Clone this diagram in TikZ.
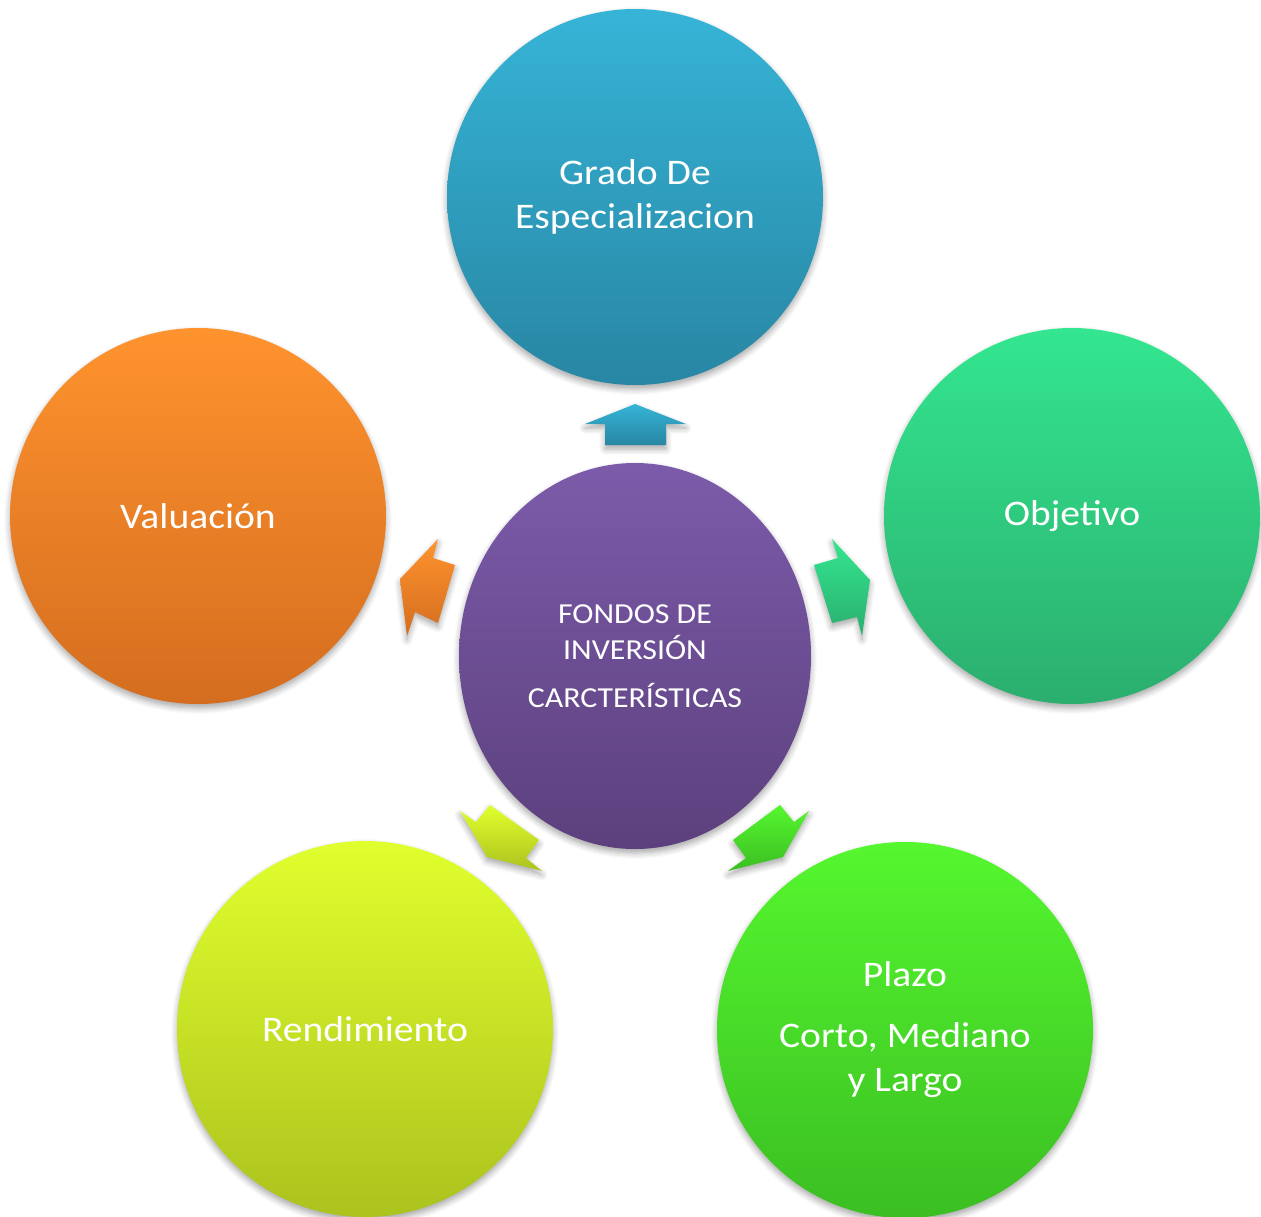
\documentclass[tikz,border=0pt]{standalone}
\usepackage{fontspec}
\setmainfont[FakeStretch=1.1]{Carlito}
\usetikzlibrary{shapes.geometric,shadows.blur}
\definecolor{bluet}{HTML}{36B4D7}\definecolor{blueb}{HTML}{2886A3}
\definecolor{greent}{HTML}{33E68F}\definecolor{greenb}{HTML}{2BAE6E}
\definecolor{oranget}{HTML}{FF932E}\definecolor{orangeb}{HTML}{D46D1F}
\definecolor{limet}{HTML}{E1FF2D}\definecolor{limeb}{HTML}{ACC21E}
\definecolor{lgreent}{HTML}{55F72F}\definecolor{lgreenb}{HTML}{3BBE22}
\definecolor{purplet}{HTML}{7C5BAA}\definecolor{purpleb}{HTML}{5C407D}
\tikzset{
  shd/.style={blur shadow={shadow blur steps=6,shadow xshift=0pt,shadow yshift=-4pt,shadow blur radius=6pt,shadow opacity=35}},
  bubble/.style={circle,minimum size=376pt,inner sep=0pt,text=white,align=center,
    font=\fontsize{36}{44}\selectfont,shd},
  arrowshape/.style={shd}
}
\begin{document}
\begin{tikzpicture}[x=1pt,y=-1pt]
\useasboundingbox (0,0) rectangle (1261,1217);
\begin{scope}
\clip (0,0) rectangle (1261,1217);
% arrows
\shade[arrowshape,top color=bluet,bottom color=blueb]
  (635,404) -- (686,424) -- (666,424) -- (666,445) -- (605,445) -- (605,424) -- (585,424) -- cycle;
\shade[arrowshape,top color=oranget,bottom color=orangeb]
  (438,539) -- (433,558) -- (455,565) -- (438,623) -- (415,612) -- (407,636) -- (400,579) -- cycle;
\shade[arrowshape,top color=greent,bottom color=greenb]
  (832,539) -- (838,558) -- (814,565) -- (832,623) -- (857,617) -- (862,636) -- (870,580) -- cycle;
\shade[arrowshape,top color=limet,bottom color=limeb]
  (460,811) -- (476,822) -- (490,805) -- (539,840) -- (526,858) -- (542,871) -- (487,857) -- cycle;
\shade[arrowshape,top color=lgreent,bottom color=lgreenb]
  (809,811) -- (794,822) -- (780,805) -- (733,840) -- (746,858) -- (728,871) -- (783,857) -- cycle;
% circles
\node[bubble,top color=bluet,bottom color=blueb] (grado) at (635,197) {Grado De\\Especializacion};
\node[bubble,top color=greent,bottom color=greenb] (obj) at (1072,516) {Objetivo};
\node[bubble,top color=oranget,bottom color=orangeb] (val) at (198,516) {Valuación};
\node[bubble,top color=limet,bottom color=limeb] (rend) at (365,1029) {Rendimiento};
\node[bubble,top color=lgreent,bottom color=lgreenb] (plazo) at (905,1030) {Plazo\\[17pt]Corto, Mediano\\y Largo};
\node[ellipse,minimum width=352pt,minimum height=386pt,inner sep=0pt,text=white,align=center,
  font=\fontsize{29}{36}\selectfont,shd,top color=purplet,bottom color=purpleb] (center) at (635,656)
  {FONDOS DE\\INVERSIÓN\\[12pt]CARCTERÍSTICAS};
\end{scope}
\end{tikzpicture}
\end{document}
